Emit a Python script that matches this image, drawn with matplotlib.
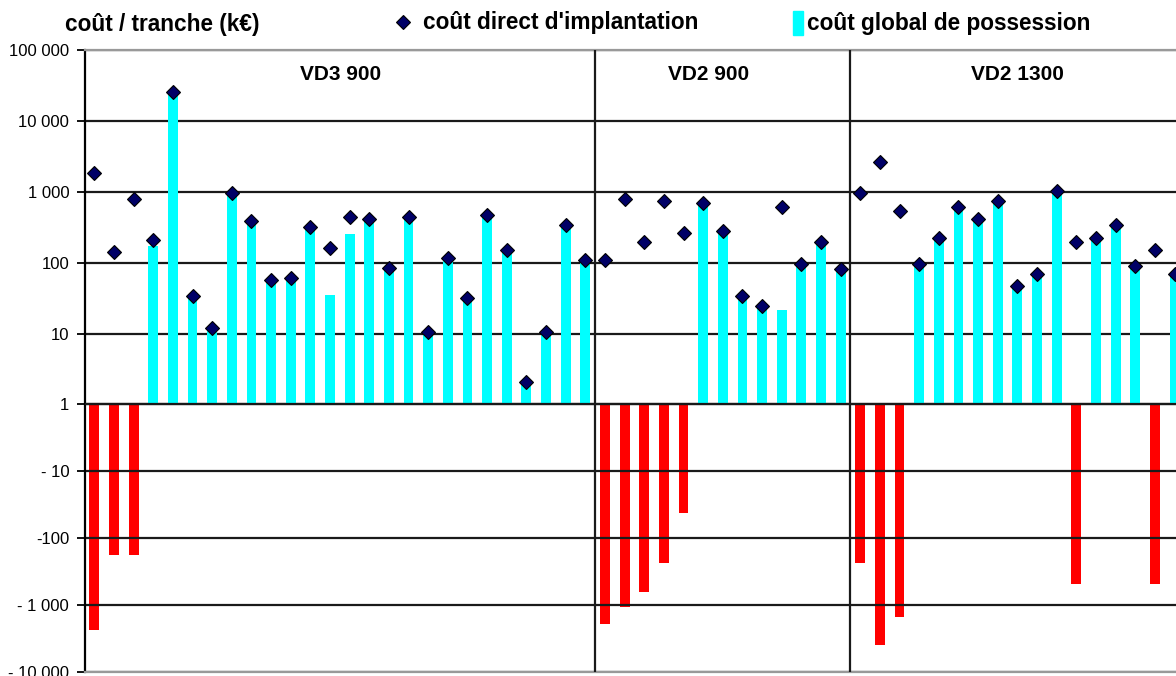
import numpy as np
import matplotlib
matplotlib.use("Agg")
import matplotlib.pyplot as plt
from matplotlib.lines import Line2D
from matplotlib.patches import Patch

plt.rcParams['font.family'] = ['Liberation Sans', 'DejaVu Sans']

# coût par tranche (k€), une valeur par tranche, groupées par palier
groupes = ["VD3 900", "VD2 900", "VD2 1300"]

direct_vd3_900 = [1830, 141, 789, 211, 25800, 34, 12, 957, 387, 57, 60, 314, 163,
                  440, 412, 84, 440, 10.6, 118, 32, 470, 152, 2.1, 10.6, 340, 110]
direct_vd2_900 = [110, 789, 198, 739, 259, 693, 276, 34, 24.8, 608, 97, 198, 80]
direct_vd2_1300 = [957, 2650, 540, 96, 225, 601, 412, 739, 47, 69, 1023, 198, 225,
                   340, 91, 152, 69]

global_vd3_900 = [-2345, -180, -180, 174, 25800, 34, 12, 957, 387, 57, 60, 314, 35,
                  254, 412, 84, 440, 10.6, 118, 32, 470, 152, 2.1, 10.6, 340, 110]
global_vd2_900 = [-1930, -1052, -641, -236, -42, 693, 276, 34, 24.8, 21.5, 97, 198, 80]
global_vd2_1300 = [-236, -3936, -1486, 96, 225, 601, 412, 739, 47, 69, 1023, -482,
                   225, 340, 91, -482, 69]

yticks = [100000, 10000, 1000, 100, 10, 1, -10, -100, -1000, -10000]
ytick_labels = ["100 000", "10 000", "1 000", "100", "10", "1",
                "- 10", "-100", "- 1 000", "- 10 000"]

direct = np.array(direct_vd3_900 + direct_vd2_900 + direct_vd2_1300, dtype=float)
cout_global = np.array(global_vd3_900 + global_vd2_900 + global_vd2_1300, dtype=float)
tailles = [len(direct_vd3_900), len(direct_vd2_900), len(direct_vd2_1300)]
x = np.arange(len(direct))

# échelle log des deux côtés de 1 (la partie négative est un peu plus serrée)
K_NEG = 0.944


def fwd(y):
    y = np.asarray(y, dtype=float)
    la = np.log10(np.maximum(np.abs(y), 1.0))
    return np.where(y >= 0, la, -K_NEG * la)


def inv(t):
    t = np.asarray(t, dtype=float)
    with np.errstate(over='ignore'):
        return np.where(t >= 0, 10.0 ** t, -10.0 ** (-t / K_NEG))


fig = plt.figure(figsize=(11.76, 6.76), dpi=100)
W, H = 1176, 676
ax = fig.add_axes([84.5 / W, 4 / H, 1 - 84.5 / W, 622 / H])
ax.set_yscale('function', functions=(fwd, inv))

neg = cout_global < 0
ax.bar(x[neg], cout_global[neg] - 1, bottom=1, width=0.5, color='#ff0000', zorder=0.3)
ax.bar(x[~neg], cout_global[~neg] - 1, bottom=1, width=0.5, color='#00ffff', zorder=2)
ax.plot(x, direct, ls='none', marker='D', ms=7, color='#000066', mec='black',
        mew=0.8, zorder=4)

ax.set_ylim(-10000, 100000)
ax.set_xlim(-0.5, -0.5 + (W - 84.5) / 19.64)
ax.set_yticks(yticks, ytick_labels)
ax.tick_params(axis='y', length=6, width=1.3, pad=5, labelsize=12, color='black')
ax.tick_params(axis='x', bottom=False, labelbottom=False)
ax.set_axisbelow(True)
ax.grid(axis='y', color='#1a1a1a', lw=1.6)
ax.axhline(1, color='#1a1a1a', lw=1.6, zorder=3)

for s in ['top', 'bottom']:
    ax.spines[s].set_color('#999999')
    ax.spines[s].set_linewidth(1.6)
ax.spines['right'].set_visible(False)
ax.spines['left'].set_linewidth(1.6)

# séparateurs et titres des paliers
bornes = np.cumsum(tailles)
for b in bornes[:-1]:
    ax.axvline(b - 0.5, color='#1a1a1a', lw=1.6, zorder=3)
centres_titres = [12.56, 31.3, 46.98]
for nom, cx in zip(groupes, centres_titres):
    ax.text(cx, 0.96, nom, transform=ax.get_xaxis_transform(), ha='center',
            va='center', fontsize=15, fontweight='bold')

fig.text(65 / W, 1 - 25 / H, "coût / tranche (k€)", ha='left', va='center',
         fontsize=16.3, fontweight='bold')

h1 = Line2D([], [], ls='none', marker='D', ms=7, color='#000066', mec='black', mew=0.8)
leg1 = fig.legend([h1], ["coût direct d'implantation"], loc='center left',
                  bbox_to_anchor=(392 / W, 1 - 23 / H), frameon=False,
                  borderpad=0, borderaxespad=0, handlelength=0.95,
                  handletextpad=0.4, prop={'size': 16.3, 'weight': 'bold'})
h2 = Patch(color='#00ffff')
leg2 = fig.legend([h2], ["coût global de possession"], loc='center left',
                  bbox_to_anchor=(793 / W, 1 - 23 / H), frameon=False,
                  borderpad=0, borderaxespad=0, handlelength=0.45,
                  handleheight=1.3, handletextpad=0.18,
                  prop={'size': 16.3, 'weight': 'bold'})

fig.savefig("out.png", dpi=100)
